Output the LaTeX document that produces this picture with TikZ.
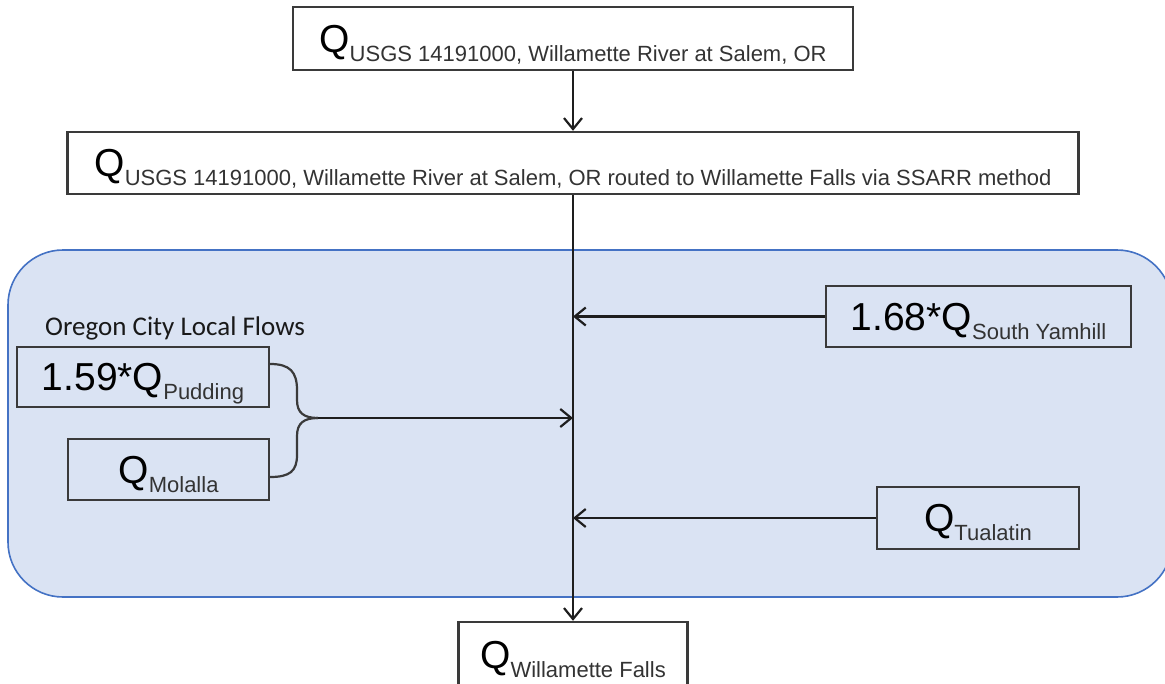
\documentclass[tikz,border=0pt]{standalone}
\usepackage{fontspec}
\setmainfont{Liberation Sans}
\newfontfamily\calfont{Carlito}
\usetikzlibrary{arrows.meta,calc}
\definecolor{boxgray}{HTML}{3A3A3A}
\definecolor{arrgray}{HTML}{1E1E1E}
\definecolor{subgray}{HTML}{333333}
\definecolor{regfill}{HTML}{DAE3F3}
\definecolor{regline}{HTML}{4472C4}
\newcommand{\qflow}[2]{{\fontsize{39}{40}\selectfont #1}\raisebox{-9pt}{\fontsize{22}{24}\selectfont\color{subgray}#2}}

\begin{document}
\begin{tikzpicture}[x=1pt,y=-1pt,
  flowbox/.style={draw=boxgray,line width=2.4pt,inner sep=0pt,
                  text height=34pt,text depth=7pt,text=black},
  arr/.style={-{Straight Barb[length=11pt,width=18pt]},line width=2.2pt,arrgray},
  brace/.style={line width=2.2pt,boxgray},
  region/.style={fill=regfill,draw=regline,line width=1.6pt,rounded corners=55pt}
]
  \useasboundingbox (0,0) rectangle (1165,683);
  \clip (0,0) rectangle (1165,683);

  % ---- Local flow area (background) ---------------------------
  \draw[region] (8,250) rectangle (1172,597);
  \node[font=\calfont\fontsize{27}{30}\selectfont,text=black!90,
        inner sep=0pt,anchor=base west] (ocity) at (45,335)
    {Oregon City Local Flows};

  % ---- Main stem -----------------------------------------------
  \node[flowbox,minimum width=560pt,minimum height=63pt] (gauge) at (573,38.5)
    {\qflow{Q}{USGS 14191000, Willamette River at Salem, OR}};
  \node[flowbox,minimum width=1011pt,minimum height=62pt] (routed) at (573,163)
    {\qflow{Q}{USGS 14191000, Willamette River at Salem, OR routed to Willamette Falls via SSARR method}};
  \node[flowbox,minimum width=229pt,minimum height=66pt] (falls) at (573,655)
    {\qflow{Q}{Willamette Falls}};

  % ---- Tributaries ---------------------------------------------
  \node[flowbox,minimum width=305pt,minimum height=61pt] (yam) at (978.5,316.5)
    {\qflow{1.68*Q}{South Yamhill}};
  \node[flowbox,minimum width=252pt,minimum height=60pt] (pud) at (143,377)
    {\qflow{1.59*Q}{Pudding}};
  \node[flowbox,minimum width=201pt,minimum height=61pt] (mol) at (168.5,469.5)
    {\qflow{Q}{Molalla}};
  \node[flowbox,minimum width=202pt,minimum height=62pt] (tua) at (978,518)
    {\qflow{Q}{Tualatin}};

  % Brace joining Pudding and Molalla
  \coordinate (tip) at (318,418);
  \draw[brace] ($(pud.east)+(0,-13)$) .. controls (290,364) and (297,372) .. (297,390)
    -- (297,400) .. controls (297,413) and (304,418) .. (tip);
  \draw[brace] (tip) .. controls (304,418) and (297,423) .. (297,436)
    -- (297,455) .. controls (297,471) and (290,477) .. ($(mol.east)+(0,7.5)$);

  % Arrows
  \draw[arr] (gauge.south) -- (gauge.south |- routed.north);
  \draw[arr] (routed.south) -- (routed.south |- falls.north);
  \draw[arr] (yam.west) -- (yam.west -| routed.south);
  \draw[arr] (tip) -- (tip -| routed.south);
  \draw[arr] (tua.west) -- (tua.west -| routed.south);

\end{tikzpicture}
\end{document}
